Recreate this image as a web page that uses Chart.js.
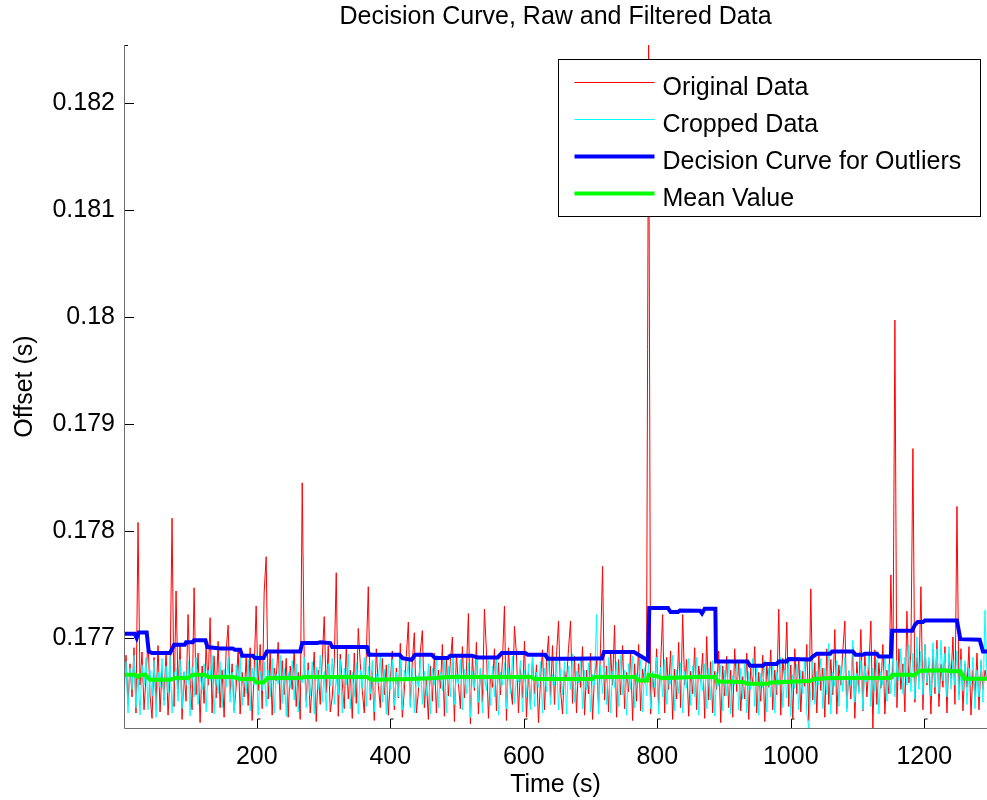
<!DOCTYPE html>
<html>
<head>
<meta charset="utf-8">
<title>Decision Curve, Raw and Filtered Data</title>
<script src="https://cdn.jsdelivr.net/npm/chart.js@4.4.1/dist/chart.umd.min.js"></script>
<style>
  html, body { margin: 0; padding: 0; background: #fff; }
  #wrap { width: 987px; height: 800px; }
</style>
</head>
<body>
<div id="wrap"><canvas id="chart" width="987" height="800"></canvas></div>
<script>
// --- data ---
// raw traces are sampled every TIME_STEP seconds, values are microseconds above OFFSET_BASE
const OFFSET_BASE = 0.176;
const TIME_START = 1;
const TIME_STEP = 3;

const originalUs = [
  520, 840, 380, 760, 450, 910, 300, 2080, 560, 870, 330, 640,
  980, 470, 250, 820, 390, 930, 310, 710, 420, 880, 280, 650,
  2120, 360, 1440, 520, 950, 240, 680, 410, 1220, 600, 330, 1470,
  470, 860, 210, 740, 390, 920, 560, 1190, 300, 830, 440, 970,
  350, 700, 260, 880, 1120, 480, 760, 320, 540, 900, 290, 680,
  450, 820, 370, 910, 230, 690, 1300, 510, 940, 340, 1430, 1760,
  430, 880, 280, 720, 600, 960, 330, 790, 470, 810, 260, 740,
  520, 890, 360, 680, 240, 2450, 830, 410, 770, 300, 560, 870,
  220, 700, 380, 800, 1200, 490, 930, 310, 450, 760, 1610, 270,
  850, 580, 340, 920, 430, 700, 250, 860, 390, 1090, 760, 510,
  300, 840, 1480, 420, 690, 230, 900, 560, 350, 810, 470, 750,
  280, 600, 880, 330, 720, 440, 950, 260, 510, 830, 1150, 370,
  780, 1050, 300, 490, 870, 1070, 350, 620, 240, 740, 410, 860,
  300, 700, 530, 940, 270, 820, 460, 780, 1010, 220, 850, 580,
  340, 920, 440, 690, 1230, 200, 830, 510, 960, 290, 720, 400,
  1270, 880, 250, 640, 540, 900, 320, 770, 470, 790, 1300, 230,
  910, 560, 380, 1110, 850, 300, 720, 440, 970, 260, 680, 350,
  820, 480, 750, 210, 600, 890, 330, 770, 1020, 450, 930, 380,
  840, 1160, 520, 290, 700, 600, 900, 1160, 390, 830, 300, 760,
  540, 920, 280, 700, 480, 860, 240, 650, 790, 350, 900, 1670,
  420, 740, 310, 880, 560, 1120, 260, 800, 470, 930, 340, 680,
  500, 870, 230, 760, 410, 940, 320, 710, 580, 850, 6545, 290,
  680, 450, 900, 360, 750, 1220, 300, 820, 520, 880, 240, 710,
  430, 960, 350, 1220, 560, 800, 270, 690, 480, 910, 330, 740,
  590, 860, 250, 1015, 420, 780, 300, 690, 520, 880, 210, 740,
  460, 830, 350, 700, 260, 900, 500, 780, 320, 640, 430, 860,
  240, 720, 560, 920, 300, 680, 410, 840, 220, 760, 540, 890,
  330, 700, 470, 1270, 280, 810, 600, 1150, 360, 750, 250, 900,
  480, 820, 310, 690, 550, 940, 230, 1460, 420, 770, 300, 860,
  510, 720, 260, 900, 380, 800, 470, 1080, 290, 750, 560, 880,
  1160, 340, 690, 430, 920, 250, 780, 500, 1080, 320, 860, 450,
  730, 1160, 160, 890, 380, 770, 530, 940, 290, 700, 480, 1590,
  620, 3970, 350, 900, 520, 760, 310, 1250, 580, 870, 2770, 400,
  820, 600, 1480, 330, 940, 560, 780, 290, 890, 480, 980, 360,
  760, 540, 920, 300, 850, 620, 1010, 380, 2230, 470, 900, 320,
  760, 540, 920, 280, 700, 450, 860, 330, 780, 520, 700, 600
];

const croppedUs = [
  400, 780, 300, 720, 520, 840, 350, 660, 280, 750, 560, 820,
  330, 700, 460, 790, 260, 680, 540, 810, 370, 740, 490, 830,
  300, 650, 720, 410, 800, 340, 690, 560, 790, 270, 730, 450,
  820, 380, 660, 520, 760, 310, 700, 600, 840, 290, 640, 480,
  780, 350, 710, 540, 820, 400, 680, 300, 750, 590, 830, 370,
  640, 480, 800, 320, 720, 560, 850, 280, 690, 510, 780, 360,
  700, 450, 810, 300, 660, 570, 840, 390, 720, 270, 680, 530,
  790, 420, 760, 310, 640, 580, 820, 350, 700, 460, 780, 290,
  730, 520, 840, 400, 690, 320, 760, 550, 810, 380, 640, 470,
  800, 300, 720, 560, 850, 340, 680, 450, 770, 290, 700, 530,
  820, 360, 740, 480, 790, 310, 660, 580, 840, 400, 710, 290,
  760, 520, 800, 370, 680, 450, 830, 330, 700, 600, 780, 350,
  720, 300, 650, 540, 810, 380, 690, 460, 760, 290, 720, 560,
  840, 350, 680, 510, 790, 300, 740, 450, 820, 380, 660, 570,
  800, 330, 710, 480, 770, 260, 690, 540, 830, 400, 720, 300,
  660, 510, 790, 370, 740, 450, 810, 280, 680, 560, 770, 340,
  720, 480, 830, 390, 650, 590, 790, 310, 700, 450, 760, 330,
  820, 360, 680, 540, 780, 300, 720, 500, 840, 380, 660, 560,
  800, 330, 710, 470, 780, 290, 740, 520, 850, 400, 690, 580,
  810, 340, 700, 520, 770, 310, 660, 560, 1220, 290, 750, 480,
  720, 380, 820, 300, 690, 540, 780, 360, 840, 470, 700, 280,
  760, 520, 830, 350, 670, 590, 800, 310, 720, 460, 780, 340,
  690, 540, 820, 290, 730, 450, 800, 380, 660, 570, 840, 320,
  700, 480, 770, 300, 690, 530, 810, 370, 740, 450, 820, 280,
  660, 510, 760, 340, 720, 420, 790, 270, 680, 550, 750, 320,
  700, 460, 800, 290, 650, 560, 780, 330, 720, 430, 760, 300,
  690, 520, 810, 360, 740, 280, 670, 540, 790, 310, 720, 450,
  770, 300, 680, 560, 820, 350, 700, 440, 790, 270, 660, 530,
  760, 330, 700, 480, 820, 300, 160, 520, 780, 380, 690, 560,
  810, 340, 720, 470, 950, 290, 680, 550, 790, 360, 740, 500,
  820, 310, 700, 560, 980, 400, 670, 480, 790, 330, 740, 590,
  840, 360, 720, 500, 800, 290, 690, 560, 830, 410, 760, 480,
  880, 450, 790, 600, 900, 480, 820, 560, 940, 500, 860, 430,
  1010, 520, 880, 470, 940, 580, 820, 460, 960, 540, 900, 480,
  980, 600, 860, 450, 920, 520, 790, 560, 880, 420, 800, 510,
  790, 380, 720, 560, 820, 340, 700, 450, 800, 400, 1260, 620
];

// decision curve: breakpoints (s) and level (us above base)
const decisionT = [1, 17, 20, 23, 35, 38, 43, 70, 76, 92, 94, 104, 106, 123, 126, 145, 164, 167, 175, 178,
  194, 197, 210, 215, 265, 268, 290, 295, 310, 313, 365, 368, 414, 418, 432, 437, 462, 467, 486, 490,
  522, 531, 561, 567, 602, 606, 632, 636, 672, 700, 717, 720, 765, 786, 788, 816, 820, 831, 834, 864,
  867, 871, 887, 888, 935, 939, 958, 961, 979, 982, 994, 997, 1029, 1033, 1039, 1059, 1062, 1093, 1097, 1108,
  1111, 1129, 1132, 1150, 1152, 1182, 1186, 1190, 1198, 1201, 1249, 1254, 1283, 1288, 1294];
const decisionUs = [1040, 1040, 1000, 1052, 1052, 875, 860, 860, 937, 937, 960, 960, 980, 980, 916, 903, 903, 890, 890, 835,
  835, 813, 813, 875, 875, 953, 953, 960, 953, 916, 916, 844, 844, 813, 797, 844, 844, 813, 813, 836,
  836, 819, 819, 860, 860, 844, 844, 807, 807, 810, 810, 869, 869, 790, 1280, 1280, 1243, 1243, 1258, 1255,
  1230, 1274, 1274, 782, 782, 741, 741, 757, 757, 782, 782, 804, 800, 828, 853, 853, 875, 875, 844, 844,
  853, 853, 828, 828, 1068, 1068, 1124, 1149, 1149, 1165, 1165, 990, 984, 875, 875];

// running mean: breakpoints (s) and level (us above base)
const meanT = [1, 18, 22, 26, 33, 40, 70, 78, 96, 104, 122, 128, 165, 175, 195, 200, 210, 216, 265, 270,
  365, 372, 430, 467, 487, 612, 616, 702, 706, 767, 772, 785, 787, 802, 806, 857, 887, 890, 929, 935,
  965, 970, 1029, 1035, 1059, 1149, 1152, 1179, 1184, 1194, 1230, 1240, 1254, 1260, 1294];
const meanUs = [657, 657, 636, 657, 657, 611, 611, 626, 626, 657, 657, 636, 636, 617, 617, 585, 585, 626, 626, 636,
  636, 611, 617, 626, 636, 636, 617, 617, 636, 636, 604, 604, 657, 640, 626, 636, 636, 595, 590, 573,
  573, 585, 600, 617, 626, 626, 657, 657, 650, 695, 700, 690, 690, 620, 620];

const seriesLabels = ['Original Data', 'Cropped Data', 'Decision Curve for Outliers', 'Mean Value'];
const xTicks = [200, 400, 600, 800, 1000, 1200];
const yTicks = [0.177, 0.178, 0.179, 0.18, 0.181, 0.182];
const X_MIN = 1, X_MAX = 1294;
const Y_MIN = 0.17616, Y_MAX = 0.18254;
const TITLE = 'Decision Curve, Raw and Filtered Data';

// --- helpers ---
const FONT = '"Liberation Sans", Arial, Helvetica, sans-serif';
const toSec = us => OFFSET_BASE + us / 1e6;
const sampled = arr => arr.map((us, i) => ({ x: TIME_START + i * TIME_STEP, y: toSec(us) }));
const paired = (ts, vs) => ts.map((t, i) => ({ x: t, y: toSec(vs[i]) }));

// MATLAB style axes: left + bottom lines, inward ticks
const matlabAxes = {
  id: 'matlabAxes',
  afterDatasetsDraw(chart) {
    const { ctx, chartArea: a, scales: { x, y } } = chart;
    ctx.save();
    ctx.lineWidth = 1;
    ctx.strokeStyle = '#6e6e6e';
    ctx.beginPath();
    ctx.moveTo(a.left + 0.5, a.top);
    ctx.lineTo(a.left + 0.5, a.bottom + 0.5);
    ctx.lineTo(a.right, a.bottom + 0.5);
    ctx.stroke();

    ctx.strokeStyle = '#000';
    ctx.beginPath();
    xTicks.forEach(v => {
      const px = Math.round(x.getPixelForValue(v)) + 0.5;
      ctx.moveTo(px, a.bottom);
      ctx.lineTo(px, a.bottom - 9);
      ctx.lineTo(px + 3, a.bottom - 9);
    });
    yTicks.forEach(v => {
      const py = Math.round(y.getPixelForValue(v)) + 0.5;
      ctx.moveTo(a.left + 1, py);
      ctx.lineTo(a.left + 10, py);
    });
    ctx.moveTo(a.left + 1, a.top + 0.5);
    ctx.lineTo(a.left + 4, a.top + 0.5);
    ctx.stroke();
    ctx.restore();
  }
};

// boxed legend in the upper right of the axes, plus the title centred over the axes
const boxLegend = {
  id: 'boxLegend',
  afterDraw(chart) {
    const { ctx, chartArea: a } = chart;
    const boxW = 422, boxH = 157;
    const bx = a.right - 7 - boxW + 0.5;
    const by = a.top + 14 + 0.5;
    ctx.save();
    ctx.fillStyle = '#fff';
    ctx.fillRect(bx, by, boxW, boxH);
    ctx.strokeStyle = '#000';
    ctx.lineWidth = 1;
    ctx.strokeRect(bx, by, boxW, boxH);

    ctx.font = '25px ' + FONT;
    ctx.fillStyle = '#000';
    ctx.textAlign = 'left';
    ctx.textBaseline = 'alphabetic';
    chart.data.datasets.forEach((ds, i) => {
      const ly = Math.round(by + 22 + i * 37.2) + 0.5;
      ctx.strokeStyle = ds.borderColor;
      ctx.lineWidth = ds.borderWidth;
      ctx.beginPath();
      ctx.moveTo(bx + 16, ly);
      ctx.lineTo(bx + 96, ly);
      ctx.stroke();
      ctx.fillText(ds.label, bx + 104, ly + 12);
    });

    ctx.font = '25px ' + FONT;
    ctx.textAlign = 'center';
    ctx.textBaseline = 'middle';
    ctx.fillText(TITLE, (a.left + a.right) / 2, 17);
    ctx.restore();
  }
};

const lineStyle = (color, width, order) => ({
  borderColor: color,
  backgroundColor: color,
  borderWidth: width,
  pointRadius: 0,
  tension: 0,
  fill: false,
  order: order
});

new Chart(document.getElementById('chart'), {
  type: 'line',
  data: {
    datasets: [
      { label: seriesLabels[0], data: sampled(originalUs), ...lineStyle('#ff0000', 1, 4) },
      { label: seriesLabels[1], data: sampled(croppedUs), ...lineStyle('#00ffff', 1, 3) },
      { label: seriesLabels[2], data: paired(decisionT, decisionUs), ...lineStyle('#0000ff', 4, 2) },
      { label: seriesLabels[3], data: paired(meanT, meanUs), ...lineStyle('#00ff00', 4, 1) }
    ]
  },
  options: {
    responsive: false,
    animation: false,
    layout: { padding: { top: 45, right: 0, bottom: 0, left: 0 } },
    plugins: {
      legend: { display: false },
      title: { display: false },
      tooltip: { enabled: false }
    },
    scales: {
      x: {
        type: 'linear',
        min: X_MIN,
        max: X_MAX,
        afterBuildTicks: s => { s.ticks = xTicks.map(v => ({ value: v })); },
        afterFit: s => { s.height = 72; },
        grid: { display: false, drawTicks: false },
        border: { display: false },
        ticks: {
          autoSkip: false, maxRotation: 0, padding: 14, color: '#000',
          font: { family: FONT, size: 25 },
          callback: v => String(v)
        },
        title: {
          display: true, text: 'Time (s)', color: '#000',
          font: { family: FONT, size: 25, lineHeight: 1.2 },
          padding: { top: 0, bottom: 0 }
        }
      },
      y: {
        type: 'linear',
        min: Y_MIN,
        max: Y_MAX,
        afterBuildTicks: s => { s.ticks = yTicks.map(v => ({ value: v })); },
        afterFit: s => { s.width = 124; },
        grid: { display: false, drawTicks: false },
        border: { display: false },
        ticks: {
          autoSkip: false, padding: 9, color: '#000',
          font: { family: FONT, size: 25 },
          callback: v => String(+v.toFixed(3))
        },
        title: {
          display: true, text: 'Offset (s)', color: '#000',
          font: { family: FONT, size: 25, lineHeight: 1.2 },
          padding: { top: 10, bottom: 0 }
        }
      }
    }
  },
  plugins: [matlabAxes, boxLegend]
});
</script>
</body>
</html>
